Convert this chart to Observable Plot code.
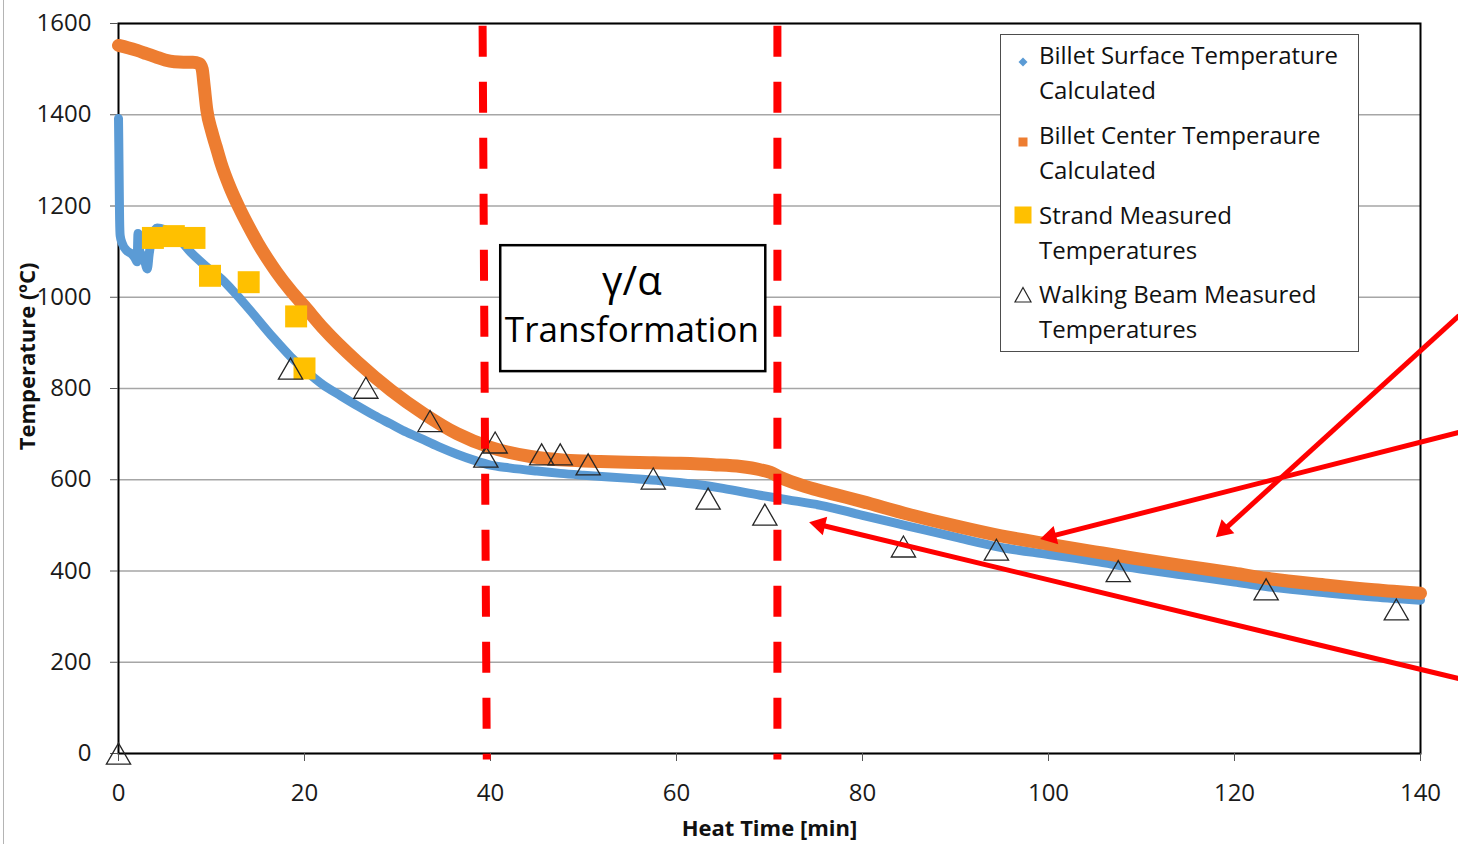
<!DOCTYPE html>
<html><head><meta charset="utf-8">
<script src="https://cdn.jsdelivr.net/npm/d3@7"></script>
<script src="https://cdn.jsdelivr.net/npm/@observablehq/plot@0.6"></script>
<style>
body{margin:0;background:#fff;font-family:"Open Sans",sans-serif;}
#wrap{position:relative;width:1458px;height:844px;overflow:hidden;}
#border{position:absolute;left:3px;top:0;width:1px;height:844px;background:#b4b4b4;}
#legend{position:absolute;left:1000px;top:34px;width:359px;height:318px;border:1px solid #4d4d4d;box-sizing:border-box;background:#fff;}
.item{position:absolute;left:38px;font-size:24px;line-height:35px;color:#111;white-space:nowrap;}
.mk{position:absolute;}
</style></head><body><div id="wrap"><div id="border"></div></div>
<script>
// ---- axis ticks ----
const xTicks = [0, 20, 40, 60, 80, 100, 120, 140];
const yTicks = [0, 200, 400, 600, 800, 1000, 1200, 1400, 1600];

// ---- Billet Surface Temperature Calculated ----
const surfaceTime = [0, 0.03, 0.06, 0.09, 0.12, 0.18, 0.4, 0.9, 1.4, 1.8, 2.0, 2.1, 2.3, 2.7, 3.1, 3.3, 3.6, 4.15, 5, 6.3, 7.75, 9.5, 11.33, 12.4, 14, 16.7, 18.5, 20.3, 22, 23.9, 25.7, 27.5, 29.3, 31, 32.8, 34.6, 36.4, 38.2, 40, 42, 45, 47.5, 50, 55, 58.3, 62, 65, 69, 72, 75.5, 80, 85, 90, 94.8, 100, 105, 109.1, 115, 120, 123.4, 130, 135, 140];
const surfaceTemp = [1392, 1340, 1280, 1220, 1170, 1135, 1118, 1102, 1095, 1085, 1078, 1140, 1100, 1088, 1062, 1095, 1130, 1152, 1148, 1132, 1099, 1066, 1035, 1012, 975, 910, 870, 836, 808, 784, 762, 741, 722, 704, 688, 671, 656, 643, 632, 626, 619, 614, 610, 603, 598, 590, 581, 566, 556, 544, 522, 498, 474, 452, 436, 421, 407, 390, 376, 366, 352, 343, 336];

// ---- Billet Center Temperaure Calculated ----
const centerTime = [0, 1, 2, 3, 4, 5, 6, 7, 8, 8.7, 9.0, 9.2, 9.5, 10, 10.5, 11, 12, 13, 14, 15, 16, 17, 18.5, 20, 22.1, 25.7, 29.3, 32.8, 36.4, 40, 44.3, 48, 51.8, 56, 60.4, 64, 66.9, 69, 70.1, 71.2, 72.3, 74.4, 77, 80, 85, 90, 94.9, 100, 105, 109.2, 115, 120, 123.4, 130, 135, 140];
const centerTemp = [1552, 1547, 1541, 1534, 1527, 1520, 1516, 1515, 1515, 1512, 1500, 1465, 1410, 1365, 1330, 1295, 1240, 1195, 1155, 1118, 1085, 1055, 1015, 980, 930, 858, 796, 745, 701, 671, 651, 643, 640, 638, 636, 633, 629, 622, 616, 605, 596, 582, 568, 552, 524, 499, 477, 459, 442, 428, 410, 395, 384, 369, 359, 351];

// ---- Strand Measured Temperatures ----
const strandTime = [3.7, 5.95, 8.17, 9.84, 14.0, 19.1, 20.0];
const strandTemp = [1130, 1134, 1130, 1047, 1033, 958, 844];

// ---- Walking Beam Measured Temperatures ----
const beamTime = [0, 18.5, 26.6, 33.5, 39.5, 40.5, 45.5, 47.5, 50.5, 57.5, 63.4, 69.5, 84.4, 94.4, 107.5, 123.4, 137.4];
const beamTemp = [-8, 836, 794, 721, 643, 674, 648, 648, 626, 595, 551, 516, 446, 439, 392, 352, 308];

// ---- annotations ----
const transitionTop = [39.15, 70.85];
const transitionBottom = [39.6, 70.85];
const boxX = [41.1, 69.6];
const boxY = [837, 1113];
const boxLabels = ["γ/α", "Transformation"];
const boxLabelX = [55.2, 55.2];
const boxLabelY = [1004, 901];
const arrowStartX = [144.15, 144.15, 144.15];
const arrowStartY = [960, 704, 164];
const arrowTipX = [118.0, 99.1, 74.26];
const arrowTipY = [474, 470, 507];

const legendLabels = [["Billet Surface Temperature", "Calculated"], ["Billet Center Temperaure", "Calculated"], ["Strand Measured", "Temperatures"], ["Walking Beam Measured", "Temperatures"]];
const colors = {surface: "#5B9BD5", center: "#ED7D31", strand: "#FFC000", beam: "#262626", red: "#FF0000"};

// ---- layout ----
const W = 1458, H = 844, ML = 118, MR = 38, MT = 23, MB = 91;
const kx = (W - ML - MR) / 140, ky = (H - MT - MB) / 1600;
const headR = 7;
const tipOff = 2 * headR * Math.sqrt(Math.PI / (3 * Math.sqrt(3)));

const surface = surfaceTime.map((t, i) => ({t, v: surfaceTemp[i]}));
const center = centerTime.map((t, i) => ({t, v: centerTemp[i]}));
const strand = strandTime.map((t, i) => ({t, v: strandTemp[i]}));
const beam = beamTime.map((t, i) => ({t, v: beamTemp[i]}));
const transitions = transitionTop.map((t, i) => ({x1: t, x2: transitionBottom[i]}));
const arrows = arrowTipX.map((tx, i) => {
  const ty = arrowTipY[i];
  const dxp = (tx - arrowStartX[i]) * kx, dyp = -(ty - arrowStartY[i]) * ky;
  const L = Math.hypot(dxp, dyp), ux = dxp / L, uy = dyp / L;
  return {x1: arrowStartX[i], y1: arrowStartY[i], cx: tx - ux * tipOff / kx, cy: ty + uy * tipOff / ky,
          angle: Math.atan2(ux, -uy) * 180 / Math.PI};
});
const boxText = boxLabels.map((s, i) => ({s, x: boxLabelX[i], y: boxLabelY[i], fs: i === 0 ? 40 : 35}));

const chart = Plot.plot({
  width: W, height: H, marginLeft: ML, marginRight: MR, marginTop: MT, marginBottom: MB,
  style: {fontFamily: "'Open Sans', sans-serif", fontSize: "24px", color: "#1a1a1a", background: "transparent", overflow: "visible"},
  x: {domain: [0, 140]},
  y: {domain: [0, 1600]},
  marks: [
    Plot.gridY(yTicks, {stroke: "#a6a6a6", strokeOpacity: 1, strokeWidth: 1.3}),
    Plot.frame({stroke: "#000", strokeWidth: 2}),
    Plot.axisX({ticks: xTicks, tickFormat: d => String(d), tickSize: 8, tickPadding: 22, fontSize: 24, label: null, stroke: "#555"}),
    Plot.axisY({ticks: yTicks, tickFormat: d => String(d), tickSize: 8, tickPadding: 19, fontSize: 24, label: null, stroke: "#555"}),
    Plot.line(surface, {x: "t", y: "v", stroke: colors.surface, strokeWidth: 9, curve: "monotone-x", strokeLinejoin: "round"}),
    Plot.line(center, {x: "t", y: "v", stroke: colors.center, strokeWidth: 13, curve: "monotone-x", strokeLinejoin: "round"}),
    Plot.dot(strand, {x: "t", y: "v", symbol: "square", r: 12.4, fill: colors.strand, stroke: "none"}),
    Plot.dot(beam, {x: "t", y: "v", symbol: "triangle", r: 9, fill: "none", stroke: colors.beam, strokeWidth: 1.3}),
    Plot.link(transitions, {x1: "x1", x2: "x2", y1: () => 1595, y2: () => -13, stroke: colors.red, strokeWidth: 8, strokeDasharray: "31,25"}),
    Plot.rect([0], {x1: () => boxX[0], x2: () => boxX[1], y1: () => boxY[0], y2: () => boxY[1], fill: "#fff", stroke: "#000", strokeWidth: 2.5}),
    Plot.text(boxText, {x: "x", y: "y", text: "s", fontSize: "fs", lineAnchor: "bottom", textAnchor: "middle", fill: "#000"}),
    Plot.link(arrows, {x1: "x1", y1: "y1", x2: "cx", y2: "cy", stroke: colors.red, strokeWidth: 5}),
    Plot.dot(arrows, {x: "cx", y: "cy", symbol: "triangle", r: headR, fill: colors.red, stroke: "none", rotate: "angle"}),
    Plot.text(["Heat Time [min]"], {text: d => d, frameAnchor: "bottom", dy: 82, lineAnchor: "bottom", textAnchor: "middle", fontWeight: "bold", fontSize: 22, fill: "#111"}),
    Plot.text(["Temperature (ºC)"], {text: d => d, frameAnchor: "left", dx: -91, dy: -32, rotate: -90, lineAnchor: "middle", textAnchor: "middle", fontWeight: "bold", fontSize: 22, fill: "#111"})
  ]
});
const wrap = document.getElementById("wrap");
wrap.appendChild(chart);

// ---- legend (HTML) ----
const legend = document.createElement("div");
legend.id = "legend";
const tops = [2, 82, 161.5, 240.5];
const markerCenters = [21.7, 101.7, 180, 259.5];
const markerSvgs = [
  `<svg width="12" height="12" viewBox="-6 -6 12 12"><path d="M0,-4.5L4.5,0L0,4.5L-4.5,0Z" fill="${colors.surface}"/></svg>`,
  `<svg width="12" height="12" viewBox="-6 -6 12 12"><rect x="-4.5" y="-4.5" width="9" height="9" fill="${colors.center}"/></svg>`,
  `<svg width="20" height="20" viewBox="-10 -10 20 20"><rect x="-8.5" y="-8.5" width="17" height="17" fill="${colors.strand}"/></svg>`,
  `<svg width="20" height="20" viewBox="-10 -10 20 20"><path d="M0,-7.5L8,7L-8,7Z" fill="none" stroke="${colors.beam}" stroke-width="1.2"/></svg>`
];
legendLabels.forEach((lines, i) => {
  const it = document.createElement("div");
  it.className = "item";
  it.style.top = tops[i] + "px";
  it.innerHTML = lines.join("<br>");
  legend.appendChild(it);
  const mk = document.createElement("div");
  mk.className = "mk";
  const size = i < 2 ? 12 : 20;
  mk.style.left = (21.5 - size / 2) + "px";
  mk.style.top = (markerCenters[i] - size / 2) + "px";
  mk.style.width = size + "px"; mk.style.height = size + "px";
  mk.innerHTML = markerSvgs[i];
  legend.appendChild(mk);
});
wrap.appendChild(legend);
</script>
</body></html>
